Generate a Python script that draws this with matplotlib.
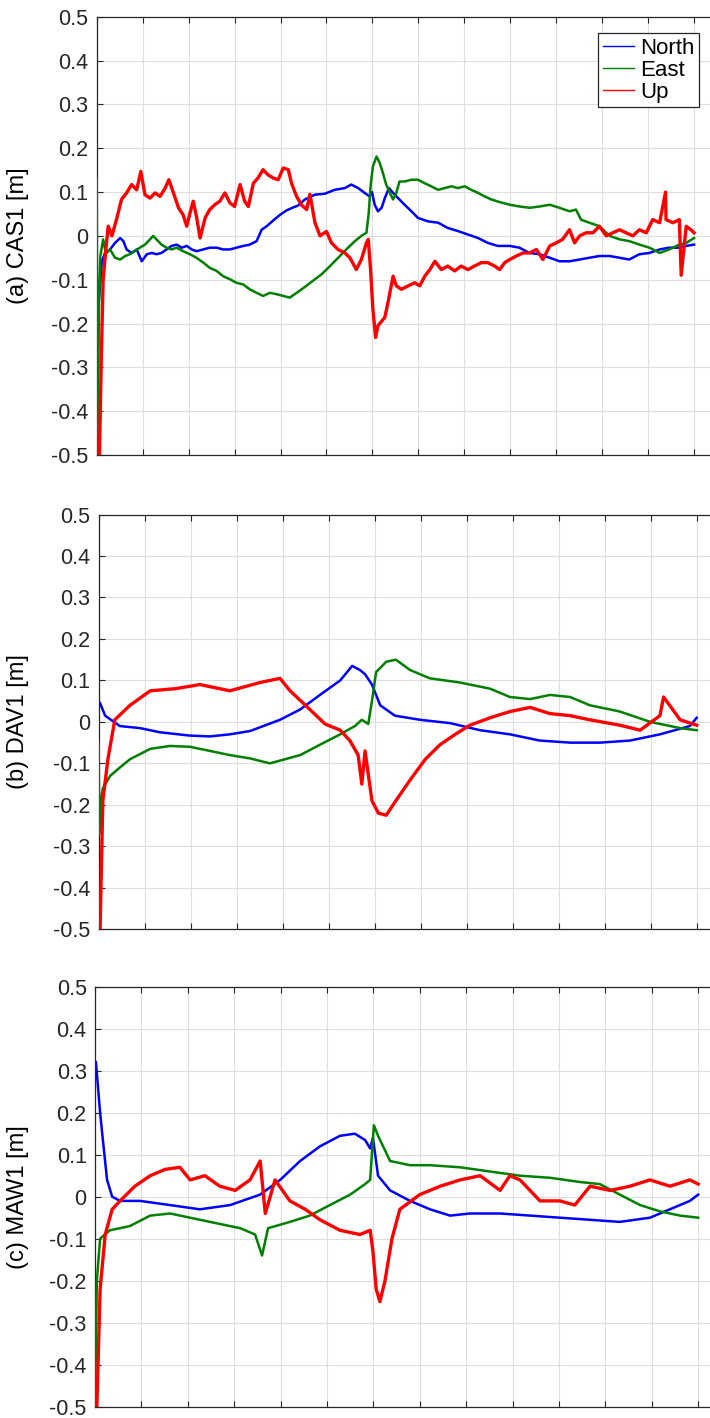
import matplotlib
matplotlib.use("Agg")
import matplotlib.pyplot as plt
from matplotlib.ticker import FixedLocator

plt.rcParams['font.family'] = ['Liberation Sans', 'DejaVu Sans']

# ---------------- data (x in tick-interval units, values in metres) --------------
series_names = ["North", "East", "Up"]
ylabels = ["(a) CAS1 [m]", "(b) DAV1 [m]", "(c) MAW1 [m]"]
yticks = [-0.5, -0.4, -0.3, -0.2, -0.1, 0.0, 0.1, 0.2, 0.3, 0.4, 0.5]
ytick_labels = ["-0.5", "-0.4", "-0.3", "-0.2", "-0.1", "0", "0.1", "0.2", "0.3", "0.4", "0.5"]
xticks = list(range(0, 14))

# Panel (a) CAS1
a_north_x = [0.0, 0.04, 0.11, 0.18, 0.29, 0.4, 0.51, 0.58, 0.65, 0.76, 0.87, 0.98, 1.09, 1.2, 1.3, 1.41,
             1.52, 1.63, 1.74, 1.85, 1.96, 2.07, 2.17, 2.32, 2.46, 2.61, 2.75, 2.9, 3.04, 3.19, 3.33, 3.48,
             3.59, 3.7, 3.84, 3.99, 4.13, 4.28, 4.38, 4.53, 4.75, 4.96, 5.18, 5.4, 5.54, 5.69, 5.83, 5.94,
             5.99, 6.05, 6.12, 6.2, 6.27, 6.36, 6.45, 6.56, 6.7, 6.85, 6.99, 7.21, 7.43, 7.64, 7.86, 8.08,
             8.3, 8.51, 8.73, 8.99, 9.2, 9.42, 9.64, 9.86, 10.07, 10.29, 10.51, 10.72, 10.94, 11.16, 11.38,
             11.59, 11.81, 12.03, 12.25, 12.46, 12.68, 12.83, 13.0]
a_north_y = [-0.37, -0.16, -0.06, -0.039, -0.031, -0.016, -0.005, -0.012, -0.031, -0.039, -0.031, -0.058,
             -0.042, -0.039, -0.042, -0.039, -0.031, -0.023, -0.02, -0.027, -0.023, -0.031, -0.035, -0.031,
             -0.027, -0.027, -0.031, -0.031, -0.027, -0.023, -0.02, -0.012, 0.014, 0.022, 0.035, 0.048,
             0.058, 0.065, 0.069, 0.083, 0.094, 0.096, 0.105, 0.109, 0.117, 0.109, 0.098, 0.09, 0.1, 0.071,
             0.056, 0.064, 0.086, 0.109, 0.098, 0.086, 0.071, 0.056, 0.041, 0.033, 0.03, 0.018, 0.011,
             0.003, -0.005, -0.016, -0.023, -0.023, -0.027, -0.039, -0.042, -0.05, -0.058, -0.058, -0.054,
             -0.05, -0.046, -0.046, -0.05, -0.054, -0.042, -0.039, -0.031, -0.027, -0.027, -0.023, -0.02]
a_east_x = [0.0, 0.02, 0.05, 0.08, 0.14, 0.2, 0.29, 0.4, 0.51, 0.62, 0.72, 0.83, 0.94, 1.05, 1.16, 1.23,
            1.3, 1.41, 1.52, 1.63, 1.74, 1.88, 2.03, 2.17, 2.32, 2.46, 2.61, 2.75, 2.9, 3.04, 3.19, 3.33,
            3.48, 3.62, 3.77, 3.91, 4.06, 4.2, 4.31, 4.46, 4.6, 4.75, 4.89, 5.04, 5.18, 5.33, 5.47, 5.62,
            5.76, 5.87, 5.92, 5.96, 6.01, 6.09, 6.16, 6.23, 6.3, 6.38, 6.45, 6.52, 6.59, 6.7, 6.85, 6.99,
            7.14, 7.28, 7.43, 7.57, 7.72, 7.86, 8.01, 8.15, 8.3, 8.44, 8.59, 8.77, 8.99, 9.2, 9.42, 9.64,
            9.86, 10.07, 10.29, 10.43, 10.54, 10.72, 10.94, 11.16, 11.38, 11.59, 11.81, 12.03, 12.25,
            12.46, 12.68, 12.83, 13.0]
a_east_y = [0.13, -0.5, -0.15, -0.046, -0.008, -0.04, -0.031, -0.05, -0.054, -0.046, -0.042, -0.035,
            -0.027, -0.02, -0.008, 0.0, -0.008, -0.02, -0.027, -0.031, -0.027, -0.035, -0.042, -0.05,
            -0.061, -0.073, -0.08, -0.092, -0.099, -0.107, -0.111, -0.122, -0.13, -0.137, -0.13, -0.133,
            -0.137, -0.141, -0.133, -0.122, -0.111, -0.099, -0.088, -0.073, -0.058, -0.042, -0.027,
            -0.012, 0.0, 0.007, 0.052, 0.113, 0.158, 0.181, 0.166, 0.143, 0.117, 0.098, 0.083, 0.098,
            0.124, 0.124, 0.128, 0.128, 0.12, 0.113, 0.105, 0.109, 0.113, 0.109, 0.113, 0.105, 0.098,
            0.09, 0.083, 0.077, 0.071, 0.067, 0.064, 0.067, 0.071, 0.064, 0.056, 0.06, 0.037, 0.03, 0.022,
            0.0, -0.008, -0.012, -0.02, -0.027, -0.039, -0.031, -0.02, -0.016, -0.005]
a_up_x = [0.06, 0.1, 0.14, 0.2, 0.25, 0.33, 0.43, 0.54, 0.65, 0.76, 0.87, 0.96, 1.05, 1.16, 1.27, 1.38,
          1.49, 1.57, 1.67, 1.78, 1.88, 1.96, 2.03, 2.1, 2.17, 2.25, 2.36, 2.46, 2.57, 2.68, 2.79, 2.9,
          3.0, 3.12, 3.22, 3.3, 3.41, 3.51, 3.62, 3.73, 3.84, 3.95, 4.06, 4.17, 4.24, 4.35, 4.46, 4.57,
          4.64, 4.75, 4.86, 5.0, 5.11, 5.25, 5.4, 5.51, 5.65, 5.76, 5.87, 5.91, 5.96, 6.01, 6.07, 6.12,
          6.2, 6.27, 6.34, 6.45, 6.52, 6.63, 6.78, 6.92, 7.03, 7.14, 7.25, 7.36, 7.5, 7.64, 7.79, 7.93,
          8.08, 8.22, 8.37, 8.51, 8.66, 8.77, 8.88, 8.99, 9.13, 9.28, 9.42, 9.57, 9.71, 9.86, 10.0, 10.14,
          10.29, 10.4, 10.51, 10.65, 10.8, 10.94, 11.09, 11.23, 11.38, 11.52, 11.67, 11.81, 11.96, 12.1,
          12.25, 12.38, 12.39, 12.54, 12.68, 12.72, 12.83, 12.93, 13.0]
a_up_y = [-0.5, -0.28, -0.1, -0.03, 0.022, 0.0, 0.037, 0.083, 0.098, 0.117, 0.105, 0.147, 0.094, 0.086,
          0.098, 0.09, 0.109, 0.128, 0.098, 0.064, 0.048, 0.022, 0.052, 0.079, 0.045, -0.005, 0.041, 0.06,
          0.071, 0.079, 0.098, 0.075, 0.067, 0.117, 0.079, 0.067, 0.12, 0.132, 0.151, 0.139, 0.132, 0.128,
          0.155, 0.151, 0.12, 0.09, 0.07, 0.06, 0.095, 0.03, 0.0, 0.01, -0.016, -0.031, -0.039, -0.05,
          -0.077, -0.054, -0.016, -0.008, -0.077, -0.167, -0.232, -0.205, -0.195, -0.186, -0.152, -0.092,
          -0.114, -0.122, -0.114, -0.107, -0.114, -0.092, -0.077, -0.058, -0.077, -0.069, -0.08, -0.069,
          -0.077, -0.069, -0.061, -0.061, -0.069, -0.077, -0.061, -0.054, -0.046, -0.039, -0.039, -0.031,
          -0.054, -0.023, -0.016, -0.008, 0.014, -0.016, 0.0, 0.007, 0.007, 0.022, 0.0, 0.007, 0.014,
          0.007, 0.0, 0.014, 0.007, 0.037, 0.03, 0.1, 0.037, 0.03, 0.037, -0.09, 0.022, 0.014, 0.007]

# Panel (b) DAV1
b_north_x = [0.0, 0.03, 0.14, 0.46, 0.9, 1.33, 1.98, 2.42, 2.85, 3.29, 3.94, 4.38, 4.81, 5.25, 5.51,
             5.68, 5.79, 5.94, 6.12, 6.44, 6.99, 7.64, 8.29, 8.94, 9.59, 10.25, 10.9, 11.55, 12.2, 12.85,
             13.0]
b_north_y = [0.05, 0.045, 0.015, -0.01, -0.015, -0.025, -0.033, -0.035, -0.03, -0.022, 0.005, 0.03,
             0.065, 0.1, 0.135, 0.125, 0.115, 0.09, 0.04, 0.015, 0.005, -0.003, -0.02, -0.03, -0.045,
             -0.05, -0.05, -0.045, -0.03, -0.01, 0.01]
b_east_x = [0.0, 0.01, 0.03, 0.09, 0.25, 0.46, 0.68, 1.12, 1.55, 1.98, 2.42, 2.85, 3.29, 3.72, 4.05,
            4.38, 4.81, 5.25, 5.57, 5.72, 5.86, 5.94, 6.03, 6.25, 6.46, 6.77, 7.2, 7.85, 8.51, 8.94, 9.38,
            9.81, 10.25, 10.68, 11.33, 11.99, 12.64, 13.0]
b_east_y = [-0.05, -0.27, -0.2, -0.16, -0.13, -0.11, -0.09, -0.065, -0.058, -0.06, -0.07, -0.08, -0.088,
            -0.1, -0.09, -0.08, -0.055, -0.03, -0.01, 0.005, -0.005, 0.05, 0.12, 0.145, 0.15, 0.125,
            0.105, 0.095, 0.08, 0.06, 0.055, 0.065, 0.06, 0.04, 0.025, 0.0, -0.015, -0.02]
b_up_x = [0.03, 0.09, 0.2, 0.35, 0.68, 1.12, 1.66, 2.2, 2.85, 3.51, 3.94, 4.16, 4.59, 4.92, 5.25,
          5.46, 5.64, 5.72, 5.79, 5.94, 6.08, 6.25, 6.46, 6.77, 7.1, 7.42, 7.75, 8.07, 8.51, 8.94, 9.38,
          9.81, 10.25, 10.68, 11.33, 11.77, 12.2, 12.28, 12.64, 13.0]
b_up_y = [-0.5, -0.19, -0.09, 0.005, 0.04, 0.075, 0.08, 0.09, 0.075, 0.095, 0.105, 0.075, 0.03, -0.005,
          -0.02, -0.045, -0.08, -0.15, -0.07, -0.19, -0.22, -0.225, -0.19, -0.14, -0.09, -0.055, -0.03,
          -0.008, 0.01, 0.025, 0.035, 0.02, 0.015, 0.005, -0.008, -0.02, 0.015, 0.06, 0.005, -0.008]

# Panel (c) MAW1
c_north_x = [0.02, 0.11, 0.17, 0.26, 0.37, 0.54, 0.97, 1.62, 2.26, 2.91, 3.56, 3.99, 4.42, 4.85, 5.28,
             5.6, 5.82, 5.93, 5.99, 6.1, 6.36, 6.79, 7.22, 7.65, 8.08, 8.73, 9.38, 10.02, 10.67, 11.31,
             11.96, 12.39, 12.82, 13.0]
c_north_y = [0.32, 0.2, 0.135, 0.04, 0.0, -0.01, -0.01, -0.02, -0.03, -0.02, 0.005, 0.04, 0.085, 0.12,
             0.145, 0.15, 0.135, 0.115, 0.14, 0.05, 0.015, -0.01, -0.03, -0.045, -0.04, -0.04, -0.045,
             -0.05, -0.055, -0.06, -0.05, -0.03, -0.01, 0.005]
c_east_x = [0.0, 0.04, 0.11, 0.32, 0.75, 1.19, 1.62, 2.05, 2.48, 3.13, 3.45, 3.6, 3.73, 4.2, 4.63, 5.06,
            5.5, 5.82, 5.93, 6.01, 6.1, 6.36, 6.79, 7.22, 7.87, 8.51, 9.16, 9.81, 10.45, 10.88, 11.31,
            11.75, 12.18, 12.61, 13.0]
c_east_y = [-0.5, -0.2, -0.1, -0.08, -0.07, -0.045, -0.04, -0.05, -0.06, -0.075, -0.09, -0.14, -0.075,
            -0.06, -0.045, -0.02, 0.005, 0.03, 0.04, 0.17, 0.145, 0.085, 0.075, 0.075, 0.07, 0.06, 0.05,
            0.045, 0.035, 0.03, 0.005, -0.02, -0.035, -0.045, -0.05]
c_up_x = [0.04, 0.11, 0.22, 0.37, 0.54, 0.86, 1.19, 1.51, 1.83, 2.05, 2.37, 2.69, 3.02, 3.34, 3.56,
          3.67, 3.88, 4.2, 4.53, 4.85, 5.28, 5.71, 5.93, 5.99, 6.06, 6.14, 6.25, 6.4, 6.57, 7.0, 7.44,
          7.87, 8.3, 8.73, 8.94, 9.16, 9.59, 10.02, 10.34, 10.67, 11.1, 11.53, 11.96, 12.39, 12.82, 13.0]
c_up_y = [-0.5, -0.22, -0.09, -0.03, -0.01, 0.025, 0.05, 0.065, 0.07, 0.04, 0.05, 0.025, 0.015, 0.04,
          0.085, -0.04, 0.04, -0.01, -0.03, -0.055, -0.08, -0.09, -0.08, -0.13, -0.22, -0.25, -0.2, -0.1,
          -0.03, 0.005, 0.025, 0.04, 0.05, 0.015, 0.05, 0.04, -0.01, -0.01, -0.02, 0.025, 0.015, 0.025,
          0.04, 0.025, 0.04, 0.03]

panels = [
    (a_north_x, a_north_y, a_east_x, a_east_y, a_up_x, a_up_y),
    (b_north_x, b_north_y, b_east_x, b_east_y, b_up_x, b_up_y),
    (c_north_x, c_north_y, c_east_x, c_east_y, c_up_x, c_up_y),
]

# ---------------- layout / style ----------------
W, H = 710, 1418
fig = plt.figure(figsize=(W / 100, H / 100), dpi=100)

# pixel geometry of each axes: left, top, bottom, pixels per x unit
geom = [(96.7, 16.7, 455.0, 45.95), (98.7, 514.5, 929.3, 46.0), (95.0, 986.7, 1406.7, 46.4)]
XMAX = 14.0
colors = ["#0000ff", "#008000", "#ff0000"]
line_w = [1.8, 1.8, 2.4]     # visual width of the noisy traces
spine_col = "#262626"

for i, (g, data) in enumerate(zip(geom, panels)):
    left, top, bot, ppu = g
    ax = fig.add_axes([left / W, 1 - bot / H, XMAX * ppu / W, (bot - top) / H])
    for k in range(3):
        xs, ys = data[2 * k], data[2 * k + 1]
        ax.plot(xs, ys, color=colors[k], lw=line_w[k], label=series_names[k], zorder=2 + k)
    ax.set_xlim(0, XMAX)
    ax.set_ylim(-0.5, 0.5)
    ax.xaxis.set_major_locator(FixedLocator(xticks))
    ax.yaxis.set_major_locator(FixedLocator(yticks))
    ax.set_xticklabels([])
    ax.set_yticklabels(ytick_labels)
    ax.grid(True, color="#dedede", lw=0.8)
    ax.set_axisbelow(True)
    ax.tick_params(direction="in", length=4, width=0.8, top=True, right=True,
                   colors=spine_col, labelsize=15.5, labelcolor="#262626", pad=6)
    for sp in ax.spines.values():
        sp.set_color(spine_col)
        sp.set_linewidth(0.9)
    ax.set_ylabel(ylabels[i], fontsize=17, color="black")
    ax.yaxis.set_label_coords((29 - left) / (XMAX * ppu), 0.5)
    if i == 0:
        leg = ax.legend(loc="upper right", bbox_to_anchor=(699.3 / W, 1 - 33.3 / H),
                        bbox_transform=fig.transFigure, borderaxespad=0, fontsize=16,
                        frameon=True, fancybox=False, handlelength=1.4, handletextpad=0.3,
                        labelspacing=0.05, borderpad=0.2, framealpha=1)
        leg.get_frame().set_edgecolor("#262626")
        leg.get_frame().set_linewidth(0.9)
        for lh in leg.get_lines():
            lh.set_linewidth(1.0)

fig.savefig("out.png", dpi=100)
